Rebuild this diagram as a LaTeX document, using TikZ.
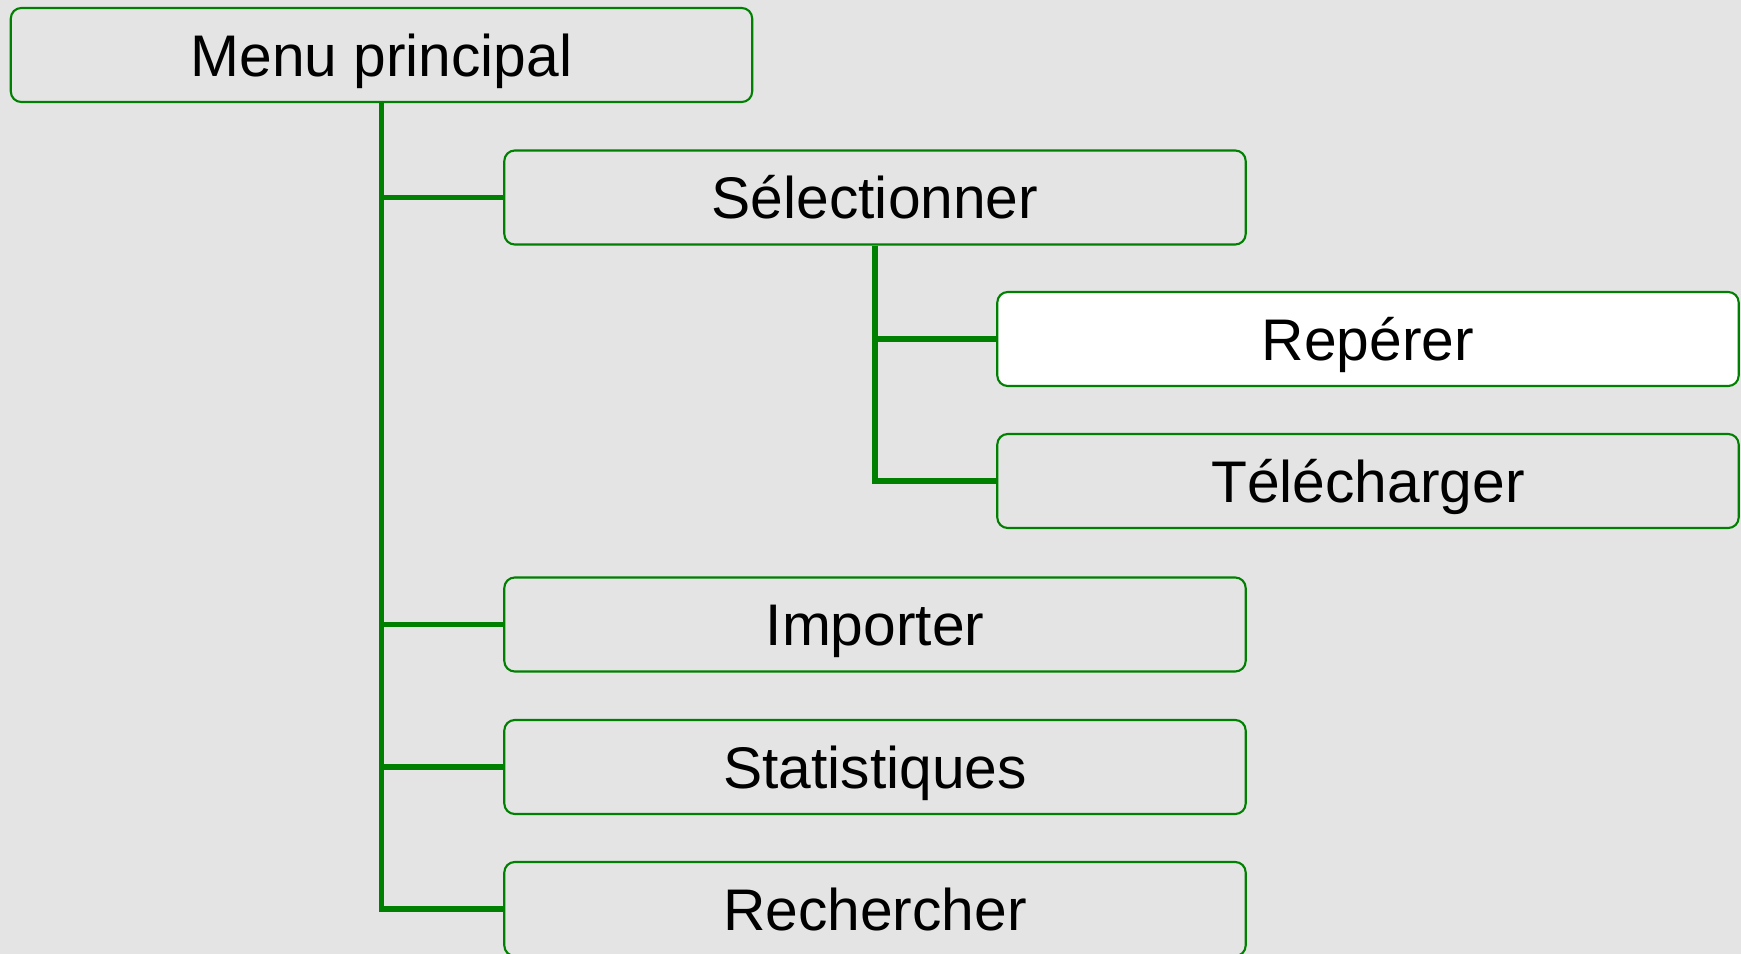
\documentclass[tikz,border=0pt]{standalone}
\usepackage{fontspec}
\setmainfont{Liberation Sans}
\usepackage{tikz}
\definecolor{fond}{HTML}{E4E4E4}
\definecolor{vert}{HTML}{008000}
\tikzstyle{menubox}=[draw=vert,line width=0.6pt,rounded corners=3pt,minimum width=7.41cm,minimum height=0.94cm,inner sep=0pt,text height=12pt,text depth=0pt,font=\fontsize{16.7}{20}\selectfont]
\tikzstyle{edge} = [draw=vert,line width=1.7pt,-]

\begin{document}
\begin{tikzpicture}[x=0.01cm,y=-0.01cm]
    \fill[fond] (0,0) rectangle (1741,954);
    \clip (0,0) rectangle (1741,954);
    % First we draw the menu entries
    \foreach \pos/\name/\txt in {{(381.5,55)/menu/Menu principal}, {(875,197.5)/selection/Sélectionner}, {(875,624.5)/importer/Importer}, {(875,767)/statistiques/Statistiques}, {(875,909)/rechercher/Rechercher}, {(1368,481)/telecharger/Télécharger}}
       \node[menubox] (\name) at \pos {\txt};
    \node[menubox,fill=white] (reperer) at (1368,339) {Repérer};
    % Connect entries with edges
    \foreach \source/ \dest in {menu/selection, menu/importer, menu/statistiques, menu/rechercher, selection/reperer, selection/telecharger}
        \path[edge] (\source) |- (\dest) ;
\end{tikzpicture}
\end{document}
